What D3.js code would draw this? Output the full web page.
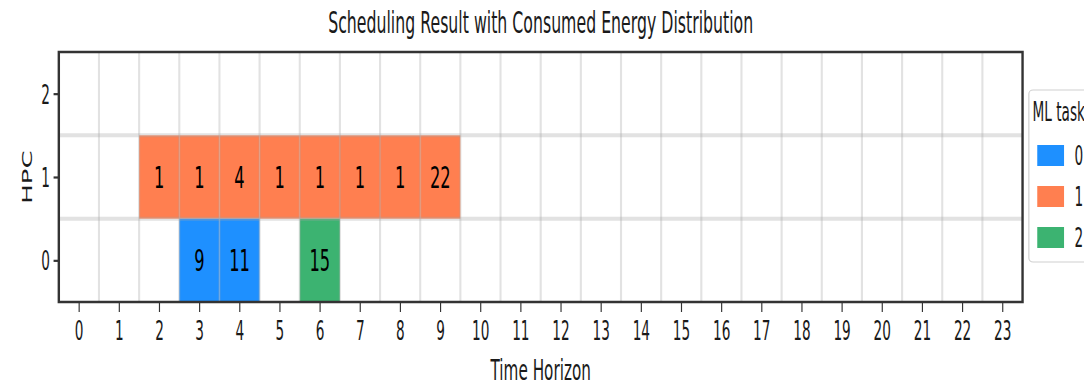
<!DOCTYPE html>
<html>
<head>
<meta charset="utf-8">
<script src="https://cdn.jsdelivr.net/npm/d3@7"></script>
<style>
  html, body { margin: 0; padding: 0; background: #fff; }
  svg { display: block; }
  text { font-family: "DejaVu Sans", sans-serif; fill: #1a1a1a; }
</style>
</head>
<body>
<svg class="chart"></svg>
<script>
// picture is a squeezed matplotlib figure, so draw in a wide virtual space
var width = 1084, height = 386;
var vw = 2064;

// data
var timeTicks = d3.range(0, 24);
var hpcTicks = [0, 1, 2];
var tasks = ["0", "1", "2"];
var taskColors = ["#1E90FF", "#FF7F50", "#3CB371"];

var schedHpc    = [1, 1, 1, 1, 1, 1, 1, 1, 0, 0, 0];
var schedTime   = [2, 3, 4, 5, 6, 7, 8, 9, 3, 4, 6];
var schedTask   = [1, 1, 1, 1, 1, 1, 1, 1, 0, 0, 2];
var schedEnergy = [1, 1, 4, 1, 1, 1, 1, 22, 9, 11, 15];

var cells = schedTime.map(function(t, i) {
    return {time: t, hpc: schedHpc[i], task: schedTask[i], energy: schedEnergy[i]};
});

var chart = d3.select(".chart")
    .attr("width", width)
    .attr("height", height)
    .attr("viewBox", "0 0 " + vw + " " + height)
    .attr("preserveAspectRatio", "none");

var pLeft = 112, pRight = 1947, pTop = 52, pBottom = 302;

var x_scale = d3.scaleLinear()
    .domain([-0.5, 23.5])
    .range([pLeft, pRight]);

var y_scale = d3.scaleLinear()
    .domain([-0.5, 2.5])
    .range([pBottom, pTop]);

// bars, one cell per time slot
chart.append("g").selectAll("rect")
    .data(cells)
    .enter().append("rect")
    .attr("x", function(d) { return x_scale(d.time - 0.5); })
    .attr("width", function(d) { return x_scale(d.time + 0.5) - x_scale(d.time - 0.5); })
    .attr("y", function(d) { return y_scale(d.hpc + 0.5); })
    .attr("height", function(d) { return y_scale(d.hpc - 0.5) - y_scale(d.hpc + 0.5); })
    .attr("fill", function(d) { return taskColors[d.task]; });

// grid on top of the bars
var grid = chart.append("g")
    .attr("stroke", "#a8a8a8")
    .attr("stroke-opacity", 0.33)
    .attr("stroke-width", 4);

grid.selectAll(".vg")
    .data(timeTicks.slice(0, 23))
    .enter().append("line")
    .attr("x1", function(d) { return x_scale(d + 0.5); })
    .attr("x2", function(d) { return x_scale(d + 0.5); })
    .attr("y1", pTop)
    .attr("y2", pBottom);

grid.selectAll(".hg")
    .data(hpcTicks.slice(0, 2))
    .enter().append("line")
    .attr("x1", pLeft)
    .attr("x2", pRight)
    .attr("y1", function(d) { return y_scale(d + 0.5); })
    .attr("y2", function(d) { return y_scale(d + 0.5); });

// energy labels
chart.append("g").selectAll("text")
    .data(cells)
    .enter().append("text")
    .attr("x", function(d) { return x_scale(d.time); })
    .attr("y", function(d) { return y_scale(d.hpc); })
    .attr("dy", "0.36em")
    .attr("text-anchor", "middle")
    .style("font-size", "31px")
    .style("fill", "#000")
    .text(function(d) { return d.energy; });

// axes
var x_axis = d3.axisBottom(x_scale)
    .tickValues(timeTicks)
    .tickFormat(d3.format("d"))
    .tickSize(10)
    .tickPadding(10);

var y_axis = d3.axisLeft(y_scale)
    .tickValues(hpcTicks)
    .tickFormat(d3.format("d"))
    .tickSize(10)
    .tickPadding(7);

var gx = chart.append("g")
    .attr("transform", "translate(0," + pBottom + ")")
    .call(x_axis);
var gy = chart.append("g")
    .attr("transform", "translate(" + pLeft + ",0)")
    .call(y_axis);

[gx, gy].forEach(function(g) {
    g.select(".domain").remove();
    g.selectAll(".tick line").attr("stroke", "#333").attr("stroke-width", 2.2);
    g.selectAll(".tick text")
        .style("font-size", "26px")
        .style("font-family", "DejaVu Sans")
        .attr("fill", "#1a1a1a");
});
gy.selectAll(".tick text").attr("dy", "0.36em");

// frame
chart.append("rect")
    .attr("x", pLeft)
    .attr("y", pTop)
    .attr("width", pRight - pLeft)
    .attr("height", pBottom - pTop)
    .attr("fill", "none")
    .attr("stroke", "#333")
    .attr("stroke-width", 2.4)
    .attr("vector-effect", "non-scaling-stroke");

// titles
chart.append("text")
    .attr("x", (pLeft + pRight) / 2)
    .attr("y", 33)
    .attr("text-anchor", "middle")
    .style("font-size", "30px")
    .text("Scheduling Result with Consumed Energy Distribution");

chart.append("text")
    .attr("x", (pLeft + pRight) / 2)
    .attr("y", 380)
    .attr("text-anchor", "middle")
    .style("font-size", "29px")
    .text("Time Horizon");

chart.append("text")
    .attr("transform", "translate(61," + y_scale(1) + ") rotate(-90)")
    .attr("text-anchor", "middle")
    .style("font-size", "26px")
    .text("HPC");

// legend
var legend = chart.append("g");
legend.append("rect")
    .attr("x", 1959)
    .attr("y", 90)
    .attr("width", 200)
    .attr("height", 172)
    .attr("rx", 8)
    .attr("ry", 4)
    .attr("fill", "#fff")
    .attr("fill-opacity", 0.8)
    .attr("stroke", "#d0d0d0")
    .attr("stroke-width", 1.2)
    .attr("vector-effect", "non-scaling-stroke");

legend.append("text")
    .attr("x", 1966)
    .attr("y", 121)
    .style("font-size", "26px")
    .text("ML task");

var item = legend.selectAll(".item")
    .data(tasks)
    .enter().append("g")
    .attr("transform", function(d, i) { return "translate(0," + (145 + i * 41) + ")"; });

item.append("rect")
    .attr("x", 1975)
    .attr("y", 0)
    .attr("width", 51)
    .attr("height", 21)
    .attr("fill", function(d, i) { return taskColors[i]; });

item.append("text")
    .attr("x", 2046)
    .attr("y", 10.5)
    .attr("dy", "0.36em")
    .style("font-size", "26px")
    .text(function(d) { return d; });
</script>
</body>
</html>
